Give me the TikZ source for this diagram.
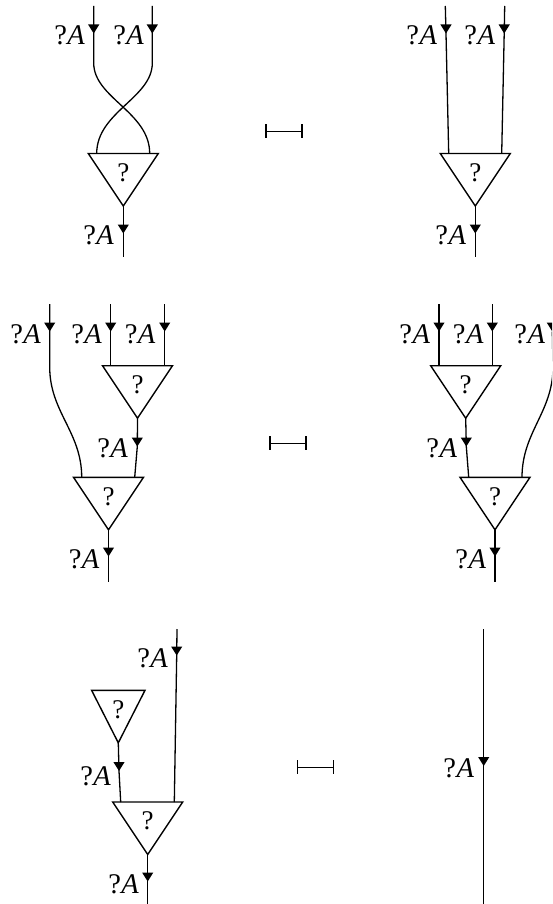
\documentclass[tikz,border=0pt]{standalone}
\usepackage{fontspec}
\setmainfont{Liberation Serif}
\newcommand{\LabTxt}{\fontsize{28.5}{30}\selectfont ?\kern0.5pt\textit{A}}
\tikzset{
  wire/.style={line width=1.3pt,line cap=butt},
  trishape/.style={line width=1.4pt,line join=miter},
  lab/.style={anchor=base east,inner sep=0pt,outer sep=0pt,text=black},
  quest/.style={anchor=center,inner sep=0pt,outer sep=0pt,font=\fontsize{27}{28}\selectfont},
  mapbar/.style={line width=1.3pt}
}
% name, centre x, top y, half width
\newcommand{\DTri}[4]{%
  \coordinate (#1-l) at (#2-#4,#3);
  \coordinate (#1-r) at (#2+#4,#3);
  \coordinate (#1-b) at (#2,#3+52.5);
  \draw[trishape] (#1-l) -- (#1-r) -- (#1-b) -- cycle;
  \node[quest] (#1) at (#2,#3+19) {?};
}
% name, x, tip y
\newcommand{\Mk}[3]{%
  \coordinate (#1) at (#2,#3);
  \fill[shift={(#1)}] (-5.6,-9) -- (5.6,-9) -- (0,0) -- cycle;
}
% name, right x, baseline y
\newcommand{\Lab}[3]{\node[lab] (#1) at (#2,#3) {\LabTxt};}
% name, x1, x2, y
\newcommand{\MapsTo}[4]{%
  \coordinate (#1-a) at (#2,#4);
  \coordinate (#1-b) at (#3,#4);
  \draw[mapbar] (#1-a) -- (#1-b);
  \draw[mapbar] (#2,#4-7) -- (#2,#4+7);
  \draw[mapbar] (#3,#4-7) -- (#3,#4+7);
}
\begin{document}
\begin{tikzpicture}[x=1pt,y=-1pt]
\clip (0,0) rectangle (552,904);
\fill[white] (0,0) rectangle (552,904);
% ---------- row 1 left
\DTri{a}{123.3}{153.5}{35}
\coordinate (a1t) at (93.7,6); \coordinate (a1c) at (93.7,63); \Mk{a1m}{93.7}{33.5}
\coordinate (a2t) at (152.3,6); \coordinate (a2c) at (152.3,63); \Mk{a2m}{152.3}{33.5}
\coordinate (a1b) at (149.7,153.5); \coordinate (a2b) at (96.7,153.5);
\draw[wire] (a1t) -- (a1m) -- (a1c) .. controls (93.7,98) and (149.7,112) .. (a1b);
\draw[wire] (a2t) -- (a2m) -- (a2c) .. controls (152.3,98) and (96.7,112) .. (a2b);
\coordinate (a3e) at (123.3,257); \Mk{a3m}{123.3}{233.5}
\draw[wire] (a-b) -- (a3m) -- (a3e);
\Lab{al1}{85}{44.5}\Lab{al2}{144}{44.5}\Lab{al3}{114}{244}
% ---------- row 1 right
\DTri{b}{475.3}{153.5}{35}
\coordinate (b1t) at (445.3,6); \coordinate (b1b) at (448.7,153.5); \Mk{b1m}{446}{33.5}
\coordinate (b2t) at (504.7,6); \coordinate (b2b) at (501.7,153.5); \Mk{b2m}{504.2}{33.5}
\draw[wire] (b1t) -- (b1m) -- (b1b);
\draw[wire] (b2t) -- (b2m) -- (b2b);
\coordinate (b3e) at (475.3,257); \Mk{b3m}{475.3}{233.5}
\draw[wire] (b-b) -- (b3m) -- (b3e);
\Lab{bl1}{437}{44.5}\Lab{bl2}{495}{44.5}\Lab{bl3}{466}{244}
\MapsTo{m1}{266}{302}{131.3}
% ---------- row 2 left
\DTri{c}{137.5}{365.7}{35}
\DTri{d}{108.5}{477.3}{35}
\coordinate (c1t) at (49.7,304); \coordinate (c1c) at (49.7,367); \Mk{c1m}{49.7}{331.5}
\coordinate (c1b) at (81.7,477.3);
\draw[wire] (c1t) -- (c1m) -- (c1c) .. controls (49.7,412) and (81.7,432) .. (c1b);
\coordinate (c2t) at (110.7,304); \coordinate (c2b) at (110.7,365.7); \Mk{c2m}{110.7}{331.5}
\coordinate (c3t) at (164.7,304); \coordinate (c3b) at (164.7,365.7); \Mk{c3m}{164.7}{331.5}
\draw[wire] (c2t) -- (c2m) -- (c2b);
\draw[wire] (c3t) -- (c3m) -- (c3b);
\coordinate (c4b) at (134.7,477.3); \Mk{c4m}{137.3}{446.5}
\draw[wire] (c-b) -- (c4m) -- (c4b);
\coordinate (d1e) at (108.5,582); \Mk{d1m}{108.5}{556.5}
\draw[wire] (d-b) -- (d1m) -- (d1e);
\Lab{cl1}{41}{343.5}\Lab{cl2}{102}{343.5}\Lab{cl3}{155.5}{343.5}\Lab{cl4}{128}{457}\Lab{cl5}{99.5}{568.5}
\MapsTo{m2}{270}{306}{443.3}
% ---------- row 2 right
\DTri{e}{465.7}{365.7}{35}
\DTri{f}{495}{477.3}{35}
\coordinate (e1t) at (439,304); \coordinate (e1b) at (439,365.7); \Mk{e1m}{439}{331.5}
\coordinate (e2t) at (492.3,304); \coordinate (e2b) at (492.3,365.7); \Mk{e2m}{492.3}{331.5}
\draw[wire] (e1t) -- (e1m) -- (e1b);
\draw[wire] (e2t) -- (e2m) -- (e2b);
\coordinate (e3t) at (553,304); \coordinate (e3c) at (553,367); \Mk{e3m}{552.3}{331.5}
\coordinate (e3b) at (522,477.3);
\draw[wire] (e3m) -- (e3c) .. controls (553,412) and (522,432) .. (e3b);
\coordinate (e4b) at (468.7,477.3); \Mk{e4m}{466.3}{446.5}
\draw[wire] (e-b) -- (e4m) -- (e4b);
\coordinate (f1e) at (495,582); \Mk{f1m}{495}{556.5}
\draw[wire] (f-b) -- (f1m) -- (f1e);
\Lab{el1}{430}{343.5}\Lab{el2}{483.5}{343.5}\Lab{el3}{545}{343.5}\Lab{el4}{457}{457}\Lab{el5}{486}{568.5}
% ---------- row 3 left
\DTri{g}{118.3}{690.3}{26.7}
\DTri{h}{147.7}{802}{35}
\coordinate (h1t) at (177,629); \coordinate (h1b) at (174.3,802); \Mk{h1m}{176.7}{655.5}
\draw[wire] (h1t) -- (h1m) -- (h1b);
\coordinate (g1b) at (120.7,802); \Mk{g1m}{119}{771}
\draw[wire] (g-b) -- (g1m) -- (g1b);
\coordinate (h2e) at (147.7,904); \Mk{h2m}{147.7}{881.5}
\draw[wire] (h-b) -- (h2m) -- (h2e);
\Lab{gl1}{168}{667.5}\Lab{gl2}{111}{785}\Lab{gl3}{139}{893}
\MapsTo{m3}{297.7}{333.3}{767.3}
% ---------- row 3 right
\coordinate (k1t) at (483.7,629); \coordinate (k1b) at (483.7,904); \Mk{k1m}{483.7}{766}
\draw[wire] (k1t) -- (k1m) -- (k1b);
\Lab{kl1}{474}{777}
\end{tikzpicture}
\end{document}
